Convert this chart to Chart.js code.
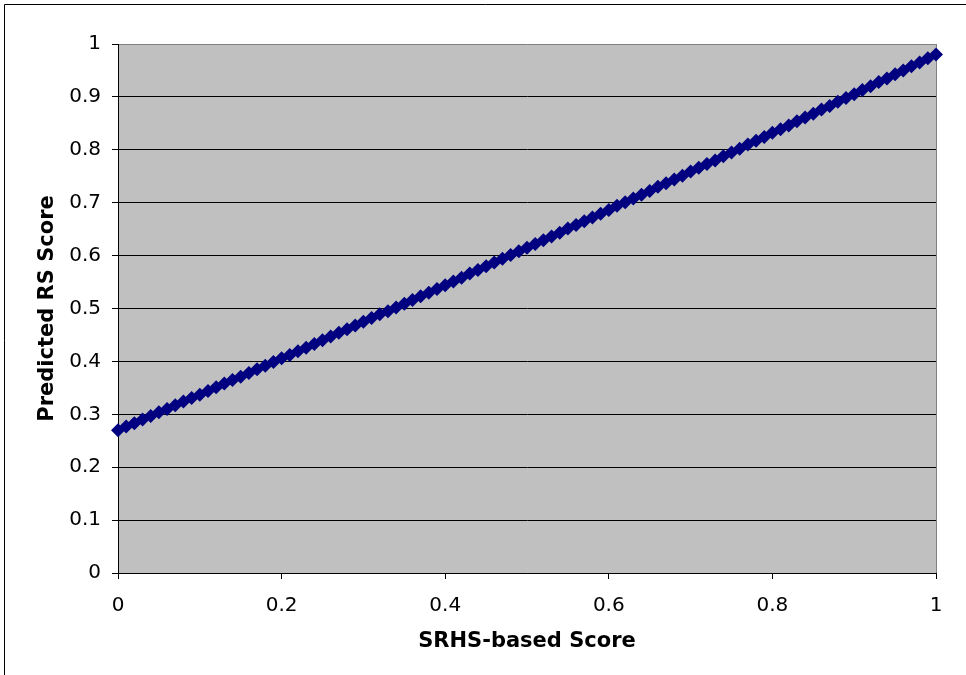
<!DOCTYPE html>
<html>
<head>
<meta charset="utf-8">
<script src="https://cdn.jsdelivr.net/npm/chart.js@4/dist/chart.umd.min.js"></script>
<style>
  html, body { margin: 0; padding: 0; background: #fff; }
  #wrap { width: 966px; height: 675px; }
</style>
</head>
<body>
<div id="wrap"><canvas id="c" width="966" height="675"></canvas></div>
<script>
// SRHS-based score (x) and predicted RS score (y)
const srhsScores = [
  0.00, 0.01, 0.02, 0.03, 0.04, 0.05, 0.06, 0.07, 0.08, 0.09,
  0.10, 0.11, 0.12, 0.13, 0.14, 0.15, 0.16, 0.17, 0.18, 0.19,
  0.20, 0.21, 0.22, 0.23, 0.24, 0.25, 0.26, 0.27, 0.28, 0.29,
  0.30, 0.31, 0.32, 0.33, 0.34, 0.35, 0.36, 0.37, 0.38, 0.39,
  0.40, 0.41, 0.42, 0.43, 0.44, 0.45, 0.46, 0.47, 0.48, 0.49,
  0.50, 0.51, 0.52, 0.53, 0.54, 0.55, 0.56, 0.57, 0.58, 0.59,
  0.60, 0.61, 0.62, 0.63, 0.64, 0.65, 0.66, 0.67, 0.68, 0.69,
  0.70, 0.71, 0.72, 0.73, 0.74, 0.75, 0.76, 0.77, 0.78, 0.79,
  0.80, 0.81, 0.82, 0.83, 0.84, 0.85, 0.86, 0.87, 0.88, 0.89,
  0.90, 0.91, 0.92, 0.93, 0.94, 0.95, 0.96, 0.97, 0.98, 0.99,
  1.00
];
const predictedRS = [
  0.270, 0.277, 0.283, 0.290, 0.297, 0.304, 0.310, 0.317, 0.324, 0.331,
  0.337, 0.344, 0.351, 0.358, 0.365, 0.371, 0.378, 0.385, 0.392, 0.399,
  0.406, 0.412, 0.419, 0.426, 0.433, 0.440, 0.447, 0.454, 0.461, 0.468,
  0.475, 0.482, 0.489, 0.495, 0.502, 0.509, 0.516, 0.523, 0.530, 0.537,
  0.544, 0.551, 0.558, 0.566, 0.573, 0.580, 0.587, 0.594, 0.601, 0.608,
  0.615, 0.622, 0.629, 0.636, 0.643, 0.651, 0.658, 0.665, 0.672, 0.679,
  0.686, 0.694, 0.701, 0.708, 0.715, 0.722, 0.730, 0.737, 0.744, 0.751,
  0.759, 0.766, 0.773, 0.780, 0.788, 0.795, 0.802, 0.810, 0.817, 0.824,
  0.832, 0.839, 0.846, 0.854, 0.861, 0.868, 0.876, 0.883, 0.891, 0.898,
  0.905, 0.913, 0.920, 0.928, 0.935, 0.943, 0.950, 0.958, 0.965, 0.973,
  0.980
];
const xTickStep = 0.2;
const yTickStep = 0.1;

const points = srhsScores.map((x, i) => ({ x: x, y: predictedRS[i] }));

// grey plot area + frame round the whole picture
const excelLook = {
  id: 'excelLook',
  beforeDraw(chart) {
    const { ctx, chartArea: a } = chart;
    ctx.save();
    ctx.fillStyle = '#c0c0c0';
    ctx.fillRect(a.left, a.top, a.right - a.left, a.bottom - a.top);
    ctx.strokeStyle = '#000';
    ctx.lineWidth = 1;
    ctx.beginPath();
    ctx.moveTo(4.5, 700);
    ctx.lineTo(4.5, 4.5);
    ctx.lineTo(1000, 4.5);
    ctx.stroke();
    ctx.restore();
  }
};

Chart.defaults.font.family = '"DejaVu Sans", Verdana, sans-serif';
Chart.defaults.color = '#000';

// Excel shows whole numbers without the trailing ".0"
const tickText = (v) => String(Math.round(v * 10) / 10);

new Chart(document.getElementById('c'), {
  type: 'scatter',
  data: {
    datasets: [{
      data: points,
      showLine: true,
      borderColor: '#000080',
      borderWidth: 3,
      backgroundColor: '#000080',
      pointStyle: 'rectRot',
      pointRadius: 7,
      pointBorderWidth: 0,
      clip: false
    }]
  },
  options: {
    responsive: false,
    animation: false,
    layout: { padding: { left: 0, right: 30, top: 44, bottom: 0 } },
    plugins: { legend: { display: false }, tooltip: { enabled: false } },
    scales: {
      x: {
        type: 'linear',
        min: 0,
        max: 1,
        afterFit(scale) { scale.height = 102; },
        ticks: { stepSize: xTickStep, padding: 15, font: { size: 20 }, callback: tickText },
        grid: {
          color: (c) => c.tick && c.tick.value === 1 ? '#808080' : 'rgba(0,0,0,0)',
          tickColor: '#000',
          tickLength: 6
        },
        border: { color: '#000' },
        title: {
          display: true,
          text: 'SRHS-based Score',
          font: { size: 21, weight: 'bold' },
          padding: { top: 21, bottom: 21 }
        }
      },
      y: {
        min: 0,
        max: 1,
        afterFit(scale) { scale.width = 118; },
        ticks: { stepSize: yTickStep, padding: 11, font: { size: 20 }, callback: tickText },
        grid: {
          color: (c) => c.tick && c.tick.value === 1 ? '#808080' : '#000',
          tickColor: '#000',
          tickLength: 6
        },
        border: { color: '#000' },
        title: {
          display: true,
          text: 'Predicted RS Score',
          font: { size: 21, weight: 'bold' },
          padding: { top: 35, bottom: 35 }
        }
      }
    }
  },
  plugins: [excelLook]
});
</script>
</body>
</html>
